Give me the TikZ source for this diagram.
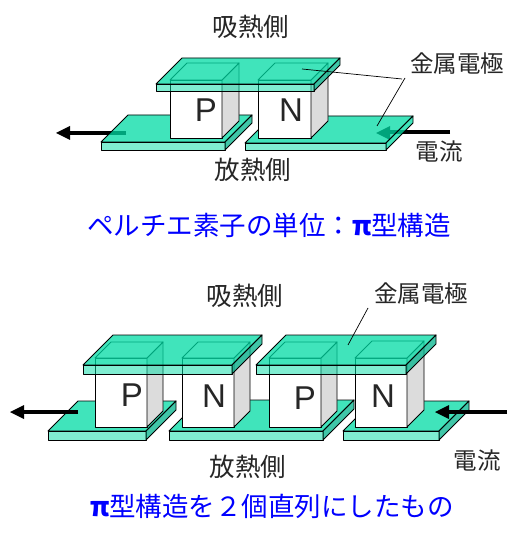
\documentclass[tikz,border=0pt]{standalone}
\usepackage{fontspec}
\setmainfont{Liberation Sans}
\newfontfamily\cjk{Noto Sans CJK JP}
\usetikzlibrary{calc}
\definecolor{platec}{RGB}{0,220,165}
\definecolor{sidec}{RGB}{0,180,140}
\definecolor{grayc}{RGB}{220,220,220}
\tikzset{
  x=1pt,y=-1pt,
  jp/.style={font=\cjk\fontsize{25.5}{26}\selectfont,inner sep=0pt,text=black!85},
  jpsmall/.style={font=\cjk\fontsize{23.5}{24}\selectfont,inner sep=0pt,text=black!85},
  jpblue/.style={font=\cjk\fontsize{26.5}{27}\selectfont,inner sep=0pt,text=blue},
  pn/.style={font=\fontsize{33}{33}\selectfont,inner sep=0pt,text=black!85},
  leader/.style={draw=black,line width=0.7pt},
  edge/.style={draw=black,line width=0.9pt,line join=round},
  arrowline/.style={line width=4pt,black}
}
% plate: x-left x-right y-top-front y-bottom-front depth side-colour
\newcommand{\plate}[6]{%
  \path[edge,fill=platec,fill opacity=.75] (#1,#3) -- (#1+#5,#3-#5) -- (#2+#5,#3-#5) -- (#2,#3) -- cycle;
  \path[edge,fill=platec,fill opacity=.5] (#1,#3) rectangle (#2,#4);
  \path[edge,fill=#6,fill opacity=.75] (#2,#3) -- (#2+#5,#3-#5) -- (#2+#5,#4-#5) -- (#2,#4) -- cycle;
}
% block: x-left x-right y-top y-bottom depth
\newcommand{\block}[5]{%
  \path[edge,fill=white] (#1,#3) rectangle (#2,#4);
  \path[edge,fill=grayc] (#2,#3) -- (#2+#5,#3-#5) -- (#2+#5,#4-#5) -- (#2,#4) -- cycle;
  \path[edge,fill=white] (#1,#3) -- (#1+#5,#3-#5) -- (#2+#5,#3-#5) -- (#2,#3) -- cycle;
}
\begin{document}
\begin{tikzpicture}
\useasboundingbox (0,0) rectangle (514,540);
\fill[white] (0,0) rectangle (514,540);

%%% Top diagram
\coordinate (a1s) at (126,133); \coordinate (a1e) at (66,133);
\draw[arrowline] (a1s) -- (a1e);
\fill (56,133) -- (70,126) -- (70,140) -- cycle;
\coordinate (a2s) at (450,132); \coordinate (a2e) at (386,132);
\draw[arrowline] (a2s) -- (a2e);
\fill (376,133) -- (390,126) -- (390,140) -- cycle;
\plate{101}{225}{142}{150}{27}{sidec}
\plate{245}{386}{143}{150}{27}{platec}
\block{170}{222}{80}{138}{17}
\block{258}{311}{80}{138}{17}
\plate{156}{314}{84}{91}{26}{sidec}
\node[pn] (p1) at (206,110.5) {P};
\node[pn] (n1) at (291,110.5) {N};
\node[jp] (t1) at (251,27) {吸熱側};
\node[jp] (t2) at (253,170) {放熱側};
\node[jpsmall] (t3) at (457,64) {金属電極};
\node[jpsmall] (t4) at (439,152) {電流};
\coordinate (l1) at (302,69);
\coordinate (l2) at (377,126);
\coordinate (l0) at (402,79);
\draw[leader] (l1) -- (l0);
\draw[leader] (l2) -- (405,78);
\node[jpblue] (b1) at (269,225) {ペルチエ素子の単位：{\bfseries π}型構造};

%%% Bottom diagram
\plate{48}{146}{431}{440}{30}{sidec}
\plate{169}{323}{431}{440}{31}{sidec}
\plate{343}{439}{431}{440}{30}{sidec}
\coordinate (a3s) at (78,412); \coordinate (a3e) at (20,412);
\draw[arrowline] (a3s) -- (a3e);
\fill (10,412) -- (24,405) -- (24,419) -- cycle;
\coordinate (a4s) at (507,412); \coordinate (a4e) at (445,412);
\draw[arrowline] (a4s) -- (a4e);
\fill (435,412) -- (449,405) -- (449,419) -- cycle;
\block{95}{147}{358}{427}{16}
\block{182}{234}{358}{427}{16}
\block{269}{321}{358}{427}{16}
\block{355}{407}{358}{427}{17}
\plate{83}{232}{365}{374}{30}{sidec}
\plate{256}{406}{365}{374}{30}{sidec}
\node[pn] (p2) at (132,395) {P};
\node[pn] (n2) at (214,396) {N};
\node[pn] (p3) at (305,398) {P};
\node[pn] (n3) at (383,396.5) {N};
\node[jp] (t5) at (245,296) {吸熱側};
\node[jp] (t6) at (248,467) {放熱側};
\node[jpsmall] (t7) at (421,294) {金属電極};
\node[jpsmall] (t8) at (477,461) {電流};
\coordinate (l3) at (348,345);
\draw[leader] (l3) -- (368,308);
\node[jpblue] (b2) at (272,506) {{\bfseries π}型構造を２個直列にしたもの};
\end{tikzpicture}
\end{document}
